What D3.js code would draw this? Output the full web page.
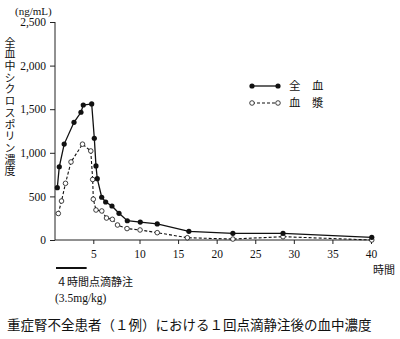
<!DOCTYPE html>
<html>
<head>
<meta charset="utf-8">
<script src="https://cdn.jsdelivr.net/npm/d3@7"></script>
<style>
  html, body { margin: 0; padding: 0; background: #fff; }
  svg { display: block; }
</style>
</head>
<body>
<svg id="chart" width="400" height="339"></svg>
<script>
// Sampling times (hours) and concentrations (ng/mL)
const bloodHours = [0.3, 0.56, 1.2, 2.48, 3.39, 3.69, 4.79, 5.11, 5.29, 5.43, 5.91, 6.34, 7.02, 7.78, 8.68, 10.1, 12.3, 16.4, 22.1, 28.6, 40.1];
const bloodConc  = [600, 840, 1100, 1350, 1465, 1548, 1560, 1167, 850, 703, 490, 436, 390, 306, 221, 206, 184, 100, 77, 77, 31];
const plasmaHours = [0.43, 0.85, 1.37, 2.09, 3.59, 4.67, 4.92, 5.0, 5.29, 5.92, 6.43, 7.06, 7.62, 8.65, 10.07, 12.3, 16.2, 22.1, 28.6, 40.1];
const plasmaConc  = [304, 447, 650, 895, 1099, 1021, 694, 468, 344, 333, 252, 237, 172, 131, 115, 84, 26, 11, 38, 0];

const xTicks = [5, 10, 15, 20, 25, 30, 35, 40];
const yTicks = [0, 500, 1000, 1500, 2000, 2500];
const yLabel = "全血中シクロスポリン濃度";
const legendNames = ["全　血", "血　漿"];
const infusionHours = 4;

const serif = "'Liberation Serif', 'DejaVu Serif', serif";
const jp = "'Noto Sans CJK JP', sans-serif";

const svg = d3.select("#chart");

// Time axis is drawn piecewise: the 5–10 h segment is wider than the rest
const x = d3.scaleLinear().domain([0, 5, 10, 40]).range([55, 93.3, 139.5, 371]);
const y = d3.scaleLinear().domain([0, 2500]).range([240, 22]);

// Axes
const yAxis = svg.append("g")
  .attr("transform", `translate(${x(0)},0)`)
  .call(d3.axisLeft(y).tickValues(yTicks).tickSize(5).tickPadding(4).tickFormat(d3.format(",")));
yAxis.select(".domain").attr("d", `M0,${y(2500)}V${y(0)}`);
const xAxis = svg.append("g")
  .attr("transform", `translate(0,${y(0)})`)
  .call(d3.axisBottom(x).tickValues(xTicks).tickSize(4).tickPadding(6).tickFormat(d3.format("d")));
xAxis.select(".domain").attr("d", `M${x(0)},0H${x(40)}`);
[yAxis, xAxis].forEach(g => {
  g.selectAll("path, line").attr("stroke", "#222").attr("stroke-width", 1);
  g.selectAll("text").attr("font-family", serif).attr("font-size", 11.5).attr("fill", "#111");
});

// Series lines
const bloodPts = bloodHours.map((h, i) => [h, bloodConc[i]]);
const plasmaPts = plasmaHours.map((h, i) => [h, plasmaConc[i]]);
const line = d3.line().x(d => x(d[0])).y(d => y(d[1]));

svg.append("path").datum(plasmaPts).attr("d", line)
  .attr("fill", "none").attr("stroke", "#111").attr("stroke-width", 1.1).attr("stroke-dasharray", "3,2");
svg.append("path").datum(bloodPts).attr("d", line)
  .attr("fill", "none").attr("stroke", "#111").attr("stroke-width", 1.3);

svg.append("g").selectAll("circle").data(plasmaPts).join("circle")
  .attr("cx", d => x(d[0])).attr("cy", d => y(d[1])).attr("r", 2.3)
  .attr("fill", "#fff").attr("stroke", "#111").attr("stroke-width", 0.8);
svg.append("g").selectAll("circle").data(bloodPts).join("circle")
  .attr("cx", d => x(d[0])).attr("cy", d => y(d[1])).attr("r", 2.6)
  .attr("fill", "#111");

// Unit and axis titles
svg.append("text").attr("x", 15).attr("y", 15).text("(ng/mL)")
  .attr("font-family", serif).attr("font-size", 11).attr("fill", "#111");
svg.append("text")
  .attr("x", 10).attr("y", 37)
  .style("writing-mode", "vertical-rl")
  .attr("font-family", jp).attr("font-size", 11).attr("letter-spacing", 0.7)
  .attr("fill", "#111")
  .text(yLabel);
svg.append("text").attr("x", 373).attr("y", 274).text("時間")
  .attr("font-family", jp).attr("font-size", 11).attr("fill", "#111");

// Legend
const legend = svg.append("g");
[0, 1].forEach(i => {
  const ly = 86 + i * 17;
  legend.append("line").attr("x1", 252).attr("x2", 278).attr("y1", ly).attr("y2", ly)
    .attr("stroke", "#111").attr("stroke-width", i ? 1.1 : 1.3)
    .attr("stroke-dasharray", i ? "3,2" : null);
  [252, 278].forEach(cx => legend.append("circle").attr("cx", cx).attr("cy", ly)
    .attr("r", i ? 2.3 : 2.6).attr("fill", i ? "#fff" : "#111")
    .attr("stroke", "#111").attr("stroke-width", i ? 0.8 : 0));
  legend.append("text").attr("x", 289).attr("y", ly + 4).text(legendNames[i])
    .attr("font-family", jp).attr("font-size", 11.5).attr("fill", "#111");
});

// Infusion period bar and note
svg.append("line").attr("x1", x(0) + 1).attr("x2", x(infusionHours) + 1)
  .attr("y1", 268).attr("y2", 268).attr("stroke", "#111").attr("stroke-width", 2);
svg.append("text").attr("x", 56).attr("y", 286).text("４時間点滴静注")
  .attr("font-family", jp).attr("font-size", 11).attr("fill", "#111");
svg.append("text").attr("x", 55).attr("y", 302).text("(3.5mg/kg)")
  .attr("font-family", serif).attr("font-size", 11.5).attr("fill", "#111");

// Caption
svg.append("text").attr("x", 7).attr("y", 330).text("重症腎不全患者（１例）における１回点滴静注後の血中濃度")
  .attr("font-family", jp).attr("font-size", 13.5).attr("fill", "#111");
</script>
</body>
</html>
